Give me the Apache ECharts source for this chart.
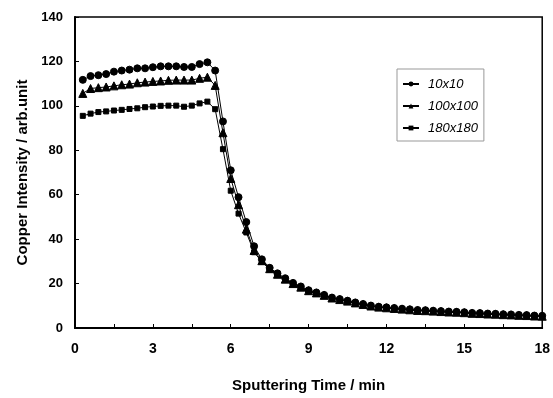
<!DOCTYPE html>
<html><head><meta charset="utf-8">
<script src="https://cdn.jsdelivr.net/npm/echarts@6/dist/echarts.min.js"></script>
<style>html,body{margin:0;padding:0;background:#fff}#c{width:553px;height:398px}</style>
</head><body><div id="c"></div>
<script>
var times = [0.3,0.6,0.9,1.2,1.5,1.8,2.1,2.4,2.7,3.0,3.3,3.6,3.9,4.2,4.5,4.8,5.1,5.4,5.7,6.0,
  6.3,6.6,6.9,7.2,7.5,7.8,8.1,8.4,8.7,9.0,9.3,9.6,9.9,10.2,10.5,10.8,11.1,11.4,11.7,12.0,
  12.3,12.6,12.9,13.2,13.5,13.8,14.1,14.4,14.7,15.0,15.3,15.6,15.9,16.2,16.5,16.8,17.1,17.4,17.7,18.0];
var s10 = [111.7,113.4,113.8,114.3,115.4,115.9,116.3,116.9,116.9,117.4,117.8,117.8,117.8,117.5,117.5,118.8,119.6,115.9,93.0,
  71.0,58.9,47.7,36.8,30.9,27.1,24.6,22.4,20.3,18.7,17.0,
  16.0,14.9,13.7,13.0,12.3,11.5,10.8,10.1,9.6,9.3,9.0,8.7,8.4,8.1,8.0,7.8,7.6,7.4,7.3,7.1,6.8,6.7,6.5,6.4,6.2,6.1,5.9,5.8,5.6,5.5];
var s100 = [105.6,107.8,108.2,108.5,109.0,109.5,109.8,110.4,110.7,111.0,111.2,111.5,111.6,111.6,111.6,112.4,112.9,109.2,87.9,
  67.3,55.5,44.5,34.9,30.3,26.7,24.2,22.0,20.0,18.4,16.8,
  15.8,14.7,13.5,12.8,12.1,11.3,10.6,9.9,9.4,9.1,8.8,8.5,8.2,7.9,7.8,7.6,7.4,7.2,7.1,6.9,6.6,6.5,6.3,6.2,6.0,5.9,5.7,5.6,5.4,5.3];
var s180 = [95.5,96.5,97.2,97.5,97.9,98.2,98.6,98.9,99.4,99.7,100.0,100.1,100.1,99.6,100.1,101.1,101.9,98.5,80.5,
  61.8,51.5,43.0,34.1,29.8,26.3,23.9,21.7,19.7,18.1,16.5,
  15.5,14.4,13.3,12.6,11.9,11.1,10.4,9.7,9.2,8.9,8.6,8.3,8.0,7.7,7.6,7.4,7.2,7.0,6.9,6.7,6.4,6.3,6.1,6.0,5.8,5.7,5.5,5.4,5.2,5.1];
var names = ['10x10','100x100','180x180'];
var symbols = ['circle','triangle','rect'];
var sizes = [7,8,5];
var yTicks = [0,20,40,60,80,100,120,140];
var xLabels = [0,3,6,9,12,15,18];

function pairs(v){ return times.map(function(t,i){ return [t, v[i]]; }); }
var all = [s10, s100, s180];
var chart = echarts.init(document.getElementById('c'), null, {renderer:'canvas'});
chart.setOption({
  animation:false,
  backgroundColor:'#fff',
  grid:{left:75,right:8,top:17,bottom:64,show:true,borderColor:'#000',borderWidth:1.5,backgroundColor:'transparent'},
  xAxis:{type:'value',min:0,max:18,interval:1.5,
    name:'Sputtering Time / min',nameLocation:'middle',nameGap:50,
    nameTextStyle:{fontFamily:'Liberation Sans',fontWeight:'bold',fontSize:15,color:'#000'},
    axisLine:{lineStyle:{color:'#000',width:2}},
    axisTick:{inside:true,length:4,lineStyle:{color:'#000'}},
    splitLine:{show:false},
    axisLabel:{margin:14,fontFamily:'Liberation Sans',fontWeight:'bold',fontSize:14,color:'#000',
      formatter:function(v){ return xLabels.indexOf(v)>=0 ? String(v) : ''; }}
  },
  yAxis:{type:'value',min:yTicks[0],max:yTicks[yTicks.length-1],interval:20,
    name:'Copper Intensity / arb.unit',nameLocation:'middle',nameGap:37,
    nameTextStyle:{fontFamily:'Liberation Sans',fontWeight:'bold',fontSize:15,color:'#000'},
    axisLine:{show:true,lineStyle:{color:'#000',width:2}},
    axisTick:{show:true,inside:true,length:4,lineStyle:{color:'#000'}},
    splitLine:{show:false},
    axisLabel:{margin:12,fontFamily:"'Liberation Sans Narrow','Liberation Sans'",fontWeight:'bold',fontSize:13,color:'#000'}
  },
  legend:{orient:'vertical',left:397,top:69,
    itemWidth:16,itemHeight:6,itemGap:8,padding:[8,6,6,5],
    borderColor:'#999',borderWidth:1,backgroundColor:'#fff',
    textStyle:{fontFamily:'Liberation Sans',fontStyle:'italic',fontSize:13,lineHeight:14,color:'#000',padding:[0,0,0,4]},
    data:names
  },
  series: names.map(function(n,i){
    return {name:n,type:'line',data:pairs(all[i]),symbol:symbols[i],symbolSize:sizes[i],showSymbol:true,
      lineStyle:{color:'#000',width:1},itemStyle:{color:'#000',borderColor:'#000'},z:3-i};
  })
});
</script></body></html>
